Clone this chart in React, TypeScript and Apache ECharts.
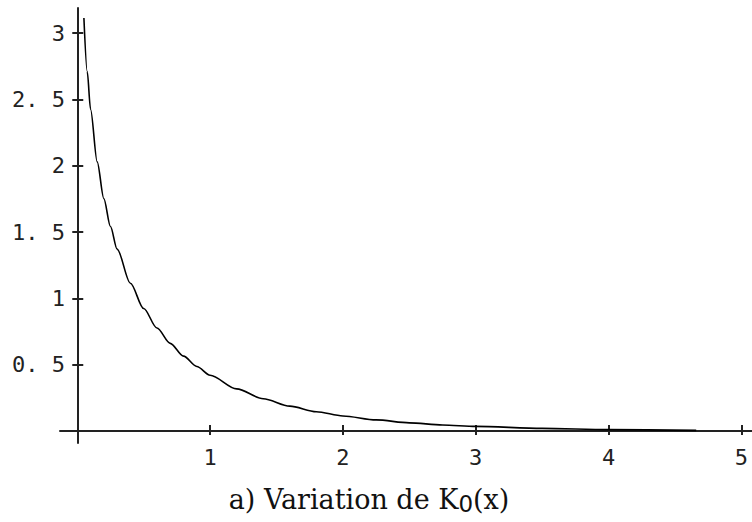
import React, { useEffect, useRef } from "react";
import * as echarts from "echarts";

const xValues = [0.05, 0.075, 0.1, 0.15, 0.2, 0.25, 0.3, 0.4, 0.5, 0.6, 0.7, 0.8, 0.9, 1.0, 1.2, 1.4, 1.6, 1.8, 2.0, 2.25, 2.5, 2.75, 3.0, 3.5, 4.0, 4.66];
const kValues = [3.114, 2.71, 2.427, 2.03, 1.753, 1.542, 1.372, 1.115, 0.924, 0.777, 0.661, 0.565, 0.487, 0.421, 0.318, 0.244, 0.188, 0.146, 0.114, 0.084, 0.062, 0.046, 0.035, 0.02, 0.011, 0.005];
const xTicks = [1, 2, 3, 4, 5];
const xTickLabels = ["1", "2", "3", "4", "5"];
const yTicks = [0.5, 1, 1.5, 2, 2.5, 3];
const yTickLabels = ["0. 5", "1", "1. 5", "2", "2. 5", "3"];
const titleMain = "a) Variation de K";
const titleSub = "0";
const titleEnd = "(x)";

export default function App() {
  const ref = useRef<HTMLDivElement>(null);
  useEffect(() => {
    const chart = echarts.init(ref.current!, null, { renderer: "svg" });
    const X_MIN = -0.13, X_MAX = 5.08, Y_MIN = -0.09, Y_MAX = 3.19;
    const gridPos = { left: 60, right: 0, top: 8, bottom: 79 };
    const axisColor = "#222";
    const labelFont = {
      fontFamily: "DejaVu Sans Mono",
      fontSize: 22,
      color: "#222",
    };
    chart.setOption({
      animation: false,
      backgroundColor: "#fff",
      grid: [
        { ...gridPos, containLabel: false, outerBoundsMode: "none" },
        { ...gridPos, containLabel: false, outerBoundsMode: "none" },
      ],
      xAxis: [
        {
          type: "value",
          gridIndex: 0,
          min: X_MIN,
          max: X_MAX,
          splitLine: { show: false },
          axisLine: { show: true, onZero: true, lineStyle: { color: axisColor, width: 2 } },
          axisTick: { show: true, inside: true, length: 6, customValues: xTicks, lineStyle: { color: axisColor, width: 2 } },
          axisLabel: {
            ...labelFont,
            customValues: xTicks,
            margin: 3,
            hideOverlap: false,
            formatter: (v: number) => xTickLabels[xTicks.indexOf(v)] ?? "",
          },
        },
        {
          type: "value",
          gridIndex: 1,
          min: X_MIN,
          max: X_MAX,
          splitLine: { show: false },
          axisLine: { show: false, onZero: true },
          axisTick: { show: true, inside: false, length: 4, customValues: xTicks, lineStyle: { color: axisColor, width: 2 } },
          axisLabel: { show: false },
        },
      ],
      yAxis: [
        {
          type: "value",
          gridIndex: 0,
          min: Y_MIN,
          max: Y_MAX,
          splitLine: { show: false },
          axisLine: { show: true, onZero: true, lineStyle: { color: axisColor, width: 2 } },
          axisTick: { show: true, inside: true, length: 6, customValues: yTicks, lineStyle: { color: axisColor, width: 2 } },
          axisLabel: {
            ...labelFont,
            customValues: yTicks,
            margin: -5,
            hideOverlap: false,
            formatter: (v: number) => yTickLabels[yTicks.indexOf(v)] ?? "",
          },
        },
        {
          type: "value",
          gridIndex: 1,
          min: Y_MIN,
          max: Y_MAX,
          splitLine: { show: false },
          axisLine: { show: false, onZero: true },
          axisTick: { show: true, inside: false, length: 5, customValues: yTicks, lineStyle: { color: axisColor, width: 2 } },
          axisLabel: { show: false },
        },
      ],
      series: [
        {
          type: "line",
          xAxisIndex: 0,
          yAxisIndex: 0,
          showSymbol: false,
          smooth: 0.3,
          smoothMonotone: "x",
          data: xValues.map((x, i) => [x, kValues[i]]),
          lineStyle: { color: "#000", width: 1.6 },
        },
      ],
      graphic: [
        {
          type: "text",
          x: 369,
          y: 499,
          style: {
            text: `{a|${titleMain}}{s|${titleSub}}{a|${titleEnd}}`,
            align: "center",
            verticalAlign: "middle",
            rich: {
              a: { fontFamily: "DejaVu Serif", fontSize: 27, fill: "#111", lineHeight: 32, verticalAlign: "middle" },
              s: { fontFamily: "DejaVu Sans", fontSize: 23, fill: "#111", lineHeight: 32, padding: [10, 0, 0, 0], verticalAlign: "middle" },
            },
          },
        },
      ],
    });
    return () => chart.dispose();
  }, []);
  return (
    <div
      ref={ref}
      style={{ position: "fixed", left: 0, top: 0, width: 752, height: 522, background: "#fff" }}
    />
  );
}
